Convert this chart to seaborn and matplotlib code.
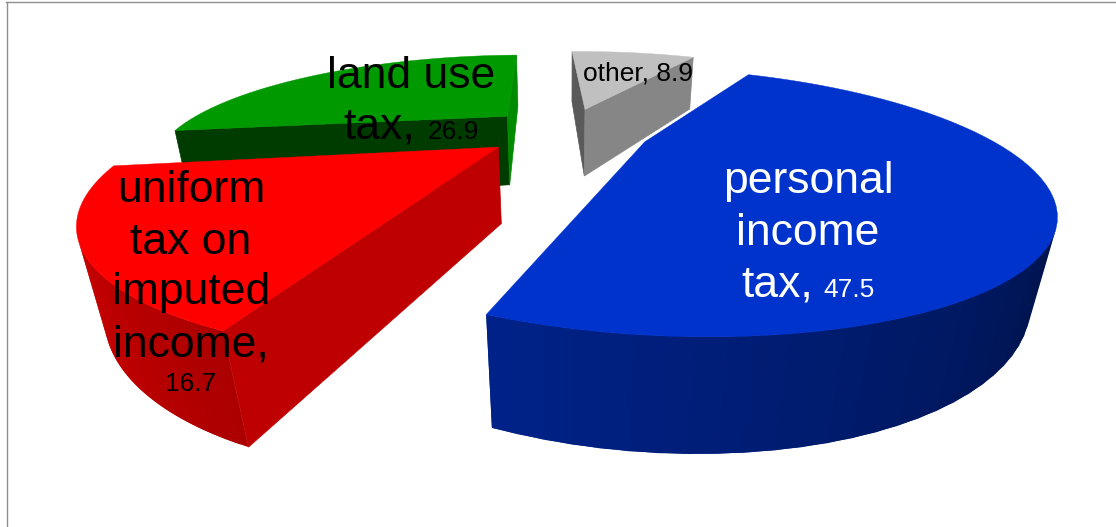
import numpy as np
import matplotlib
matplotlib.use("Agg")
import matplotlib.pyplot as plt
import seaborn as sns

categories = ["personal income tax", "uniform tax on imputed income", "land use tax", "other"]
shares = [47.5, 16.7, 26.9, 8.9]
top_colors = ["#0033cc", "#ff0000", "#009900", "#c0c0c0"]

# Perspective camera and pie geometry (unit radius pie, clockwise from START_ANGLE)
CAM_X, CAM_Y, FOCAL, ELEVATION, DISTANCE = 566.97, 203.03, 715.61, 22.78, 2.2411
EXPLODE, START_ANGLE, THICKNESS = 0.24752, 60.027, 0.23546
FACE_SHADES = [(.7, .7), (.75, .75), (.39, .9), (.47, .7)]


def project(u, v, z):
    s, c = np.sin(np.radians(ELEVATION)), np.cos(np.radians(ELEVATION))
    depth = DISTANCE + v * c - z * s
    return CAM_X + FOCAL * u / depth, CAM_Y - FOCAL * (v * s + z * c) / depth


def shade(color, k):
    return tuple(np.array(color) * k)


def wall_shade(angle):
    wrapped = ((angle + 180) % 360) - 180
    return np.interp(wrapped, [-180, -110, -20, 180], [.9, .67, .3, .3])


def draw_side(ax, p, q, color, zorder, lw=0.0):
    """Fill one vertical face from edge p to edge q if it faces the camera."""
    xs, ys = [], []
    for (u, v), z in [(p, THICKNESS), (q, THICKNESS), (q, 0), (p, 0)]:
        x, y = project(u, v, z)
        xs.append(x)
        ys.append(y)
    xs, ys = np.array(xs), np.array(ys)
    if (xs * np.roll(ys, -1) - np.roll(xs, -1) * ys).sum() < 0:
        ax.fill(xs, ys, color=color, lw=lw, zorder=zorder)


def draw_slice(ax, share, start, color, shades, zorder):
    sweep = share * 3.6
    mid = np.radians(start - sweep / 2)
    cu, cv = EXPLODE * np.cos(mid), EXPLODE * np.sin(mid)
    angles = np.linspace(start, start - sweep, 61)
    ou = cu + np.cos(np.radians(angles))
    ov = cv + np.sin(np.radians(angles))
    # Each wall strip overlaps the next one so no seams appear between them
    for j in range(len(angles) - 1):
        k = min(j + 2, len(angles) - 1)
        draw_side(ax, (ou[j], ov[j]), (ou[k], ov[k]),
                  shade(color, wall_shade((angles[j] + angles[j + 1]) / 2)), zorder)
    draw_side(ax, (cu, cv), (ou[0], ov[0]), shade(color, shades[0]), zorder, lw=0.5)
    draw_side(ax, (ou[-1], ov[-1]), (cu, cv), shade(color, shades[1]), zorder, lw=0.5)
    x, y = project(np.r_[cu, ou], np.r_[cv, ov], THICKNESS)
    ax.fill(x, y, color=color, lw=0.3, zorder=zorder)


def label_line(ax, xc, baseline, big, small, color, gap=12.3):
    """Centre a line made of a large word and a smaller value on one baseline."""
    renderer = ax.figure.canvas.get_renderer()
    parts = []
    if big:
        parts.append(ax.text(0, baseline, big, fontsize=32, color=color, va="baseline", zorder=9))
    if small:
        parts.append(ax.text(0, baseline, small, fontsize=19, color=color, va="baseline", zorder=9))
    widths = [t.get_window_extent(renderer).width for t in parts]
    left = xc - (sum(widths) + gap * (len(parts) - 1)) / 2
    for t, w in zip(parts, widths):
        t.set_x(left)
        left += w + gap


sns.set_theme(style="white")
plt.rcParams["font.family"] = ["Liberation Sans", "DejaVu Sans"]
palette = sns.color_palette(top_colors)

fig = plt.figure(figsize=(11.16, 5.27), dpi=100)
ax = fig.add_axes([6.5 / 1116, 0, 1 - 6.5 / 1116, 525 / 527])
ax.set_xlim(6.5, 1116)
ax.set_ylim(527, 2)
ax.set_xticks([])
ax.set_yticks([])
sns.despine(ax=ax, top=False, right=True, left=False, bottom=True)
for side in ("top", "left"):
    ax.spines[side].set_color("#8f8f8f")
    ax.spines[side].set_linewidth(1.0)

# Start angle of each slice, then paint from the back of the pie to the front
starts = START_ANGLE - np.r_[0, np.cumsum(shares)[:-1]] * 3.6
for z, i in enumerate([3, 2, 1, 0], start=1):
    draw_slice(ax, shares[i], starts[i], palette[i], FACE_SHADES[i], z)

label_line(ax, 808, 193, "personal", "", "white")
label_line(ax, 808, 245, "income", "", "white")
label_line(ax, 808, 297, "tax,", f"{shares[0]}", "white", gap=10)
label_line(ax, 191, 202, "uniform", "", "black")
label_line(ax, 191, 254, "tax on", "", "black")
label_line(ax, 191, 304, "imputed", "", "black")
label_line(ax, 191, 356, "income,", "", "black")
label_line(ax, 191, 391, "", f"{shares[1]}", "black")
label_line(ax, 411, 88, "land use", "", "black")
label_line(ax, 411, 139, "tax,", f"{shares[2]}", "black")
ax.text(638, 81, f"other, {shares[3]}", fontsize=19, ha="center", va="baseline", color="black", zorder=9)

fig.savefig("out.png", dpi=100)
